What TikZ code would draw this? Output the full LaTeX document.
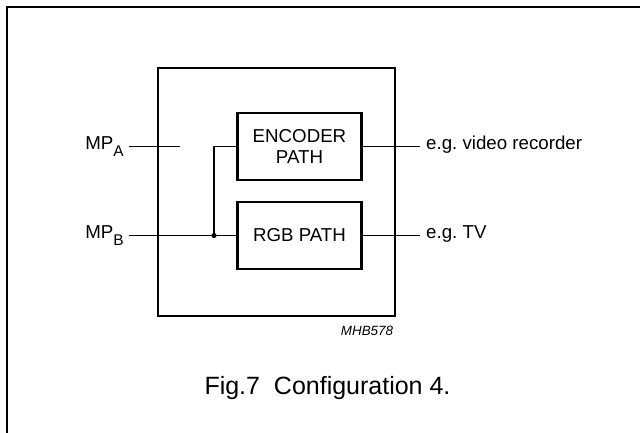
\documentclass[tikz,border=0pt]{standalone}
\usepackage{fontspec}
\setmainfont{Liberation Sans}
\usetikzlibrary{positioning}
\tikzset{
	pathbox/.style={draw, line width=2.3pt, minimum width=124pt, minimum height=67pt, inner sep=0pt, align=center, font=\fontsize{18.7}{21.7}\selectfont},
	wire/.style={line width=1.4pt},
	lbl/.style={inner xsep=5pt, inner ysep=0pt, font=\fontsize{18.7}{21.7}\selectfont}
}
\newcommand{\mpsub}[1]{\raisebox{-7pt}{\fontsize{15.5}{16}\selectfont #1}}

\begin{document}
\begin{tikzpicture}[x=1pt, y=-1pt]
	\useasboundingbox (0, 0) rectangle (640, 432);
	\draw [line width=1.8pt] (7, 445) -- (7, 7) -- (650, 7);
	\node [draw, line width=2.7pt, minimum width=237pt, minimum height=248pt, inner sep=0pt] (chip) at (276.5, 192) {};
	\node [pathbox] (enc) at (299.5, 146.5) {ENCODER\\PATH};
	\node [pathbox] (rgb) at (299.5, 235.5) {RGB PATH};
	\node [lbl, anchor=mid east] (mpa) at (129, 146.5) {MP\mpsub{A}};
	\node [lbl, anchor=mid east] (mpb) at (129, 235.5) {MP\mpsub{B}};
	\node [lbl, anchor=mid west, inner xsep=6pt] (vcr) at (420, 146.5) {e.g.\ video recorder};
	\node [lbl, anchor=mid west, inner xsep=6pt] (tv) at (420, 235.5) {e.g.\ TV};
	\coordinate (aend) at (180, 146.5);
	\coordinate (jn) at (214, 235.5);
	\draw [wire] (mpa.mid east) -- (aend);
	\draw [wire] (mpb.mid east) -- (rgb.west);
	\draw [wire] (jn) |- (enc.west);
	\fill (jn) circle (2.6);
	\draw [wire] (enc.east) -- (vcr.mid west);
	\draw [wire] (rgb.east) -- (tv.mid west);
	\node [anchor=base, font=\fontsize{13.4}{14}\selectfont\itshape] (code) at (367, 335.7) {MHB578};
	\node [anchor=base, font=\fontsize{25}{28}\selectfont] (cap) at (327.5, 394) {Fig.7~\ Configuration 4.};
\end{tikzpicture}
\end{document}
